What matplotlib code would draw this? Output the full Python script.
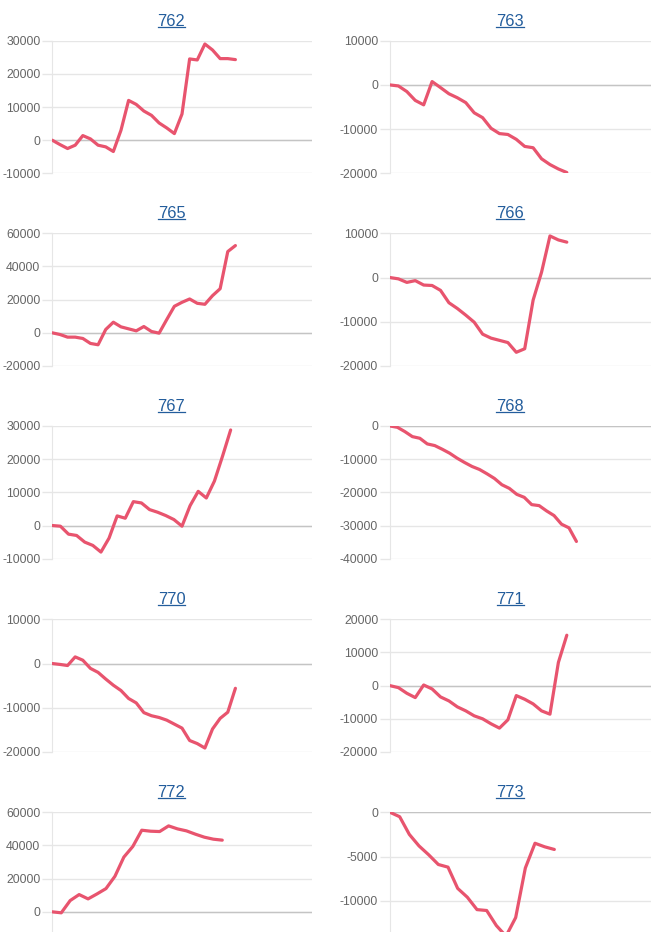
import matplotlib
matplotlib.use("Agg")
import matplotlib.pyplot as plt
from matplotlib.lines import Line2D
import numpy as np

plt.rcParams['font.family'] = ['Liberation Sans', 'DejaVu Sans']
plt.rcParams['axes.unicode_minus'] = False

titles = ["762", "763", "765", "766", "767", "768", "770", "771", "772", "773"]

s762 = [0, -1300, -2500, -1500, 1400, 400, -1500, -2000, -3400, 3000, 12000, 10800,
        8800, 7500, 5200, 3700, 2000, 7900, 24500, 24200, 29000, 27200, 24600, 24600, 24300]
s763 = [0, -230, -1500, -3500, -4500, 760, -600, -2000, -2900, -4000, -6300, -7400,
        -9800, -11000, -11200, -12300, -13900, -14200, -16700, -18000, -19000, -19800]
s765 = [0, -1000, -2600, -2600, -3400, -6400, -7200, 2000, 6400, 3600, 2400, 1200,
        3800, 800, -200, 8000, 16000, 18400, 20400, 17800, 17200, 22400, 26600, 49000, 52600]
s766 = [0, -300, -1100, -700, -1700, -1800, -2900, -5700, -7000, -8500, -10100, -12800,
        -13700, -14200, -14700, -16900, -16100, -5100, 1200, 9400, 8500, 8000]
s767 = [0, -200, -2600, -3000, -5000, -6000, -8000, -3800, 2900, 2200, 7200, 6800,
        4800, 4000, 3000, 1800, -200, 6000, 10300, 8300, 13400, 20900, 28800]
s768 = [0, -400, -1700, -3200, -3700, -5400, -5900, -7000, -8200, -9700, -11000, -12200,
        -13100, -14400, -15800, -17700, -18800, -20600, -21500, -23700, -24000, -25600,
        -27000, -29600, -30700, -34800]
s770 = [0, -200, -450, 1500, 750, -1100, -2000, -3500, -4900, -6100, -7900, -8900,
        -11100, -11800, -12200, -12800, -13700, -14600, -17400, -18100, -19100, -14800,
        -12400, -11000, -5600]
s771 = [0, -600, -2300, -3600, 200, -1000, -3400, -4600, -6400, -7600, -9100, -10000,
        -11500, -12800, -10300, -3000, -4100, -5500, -7600, -8600, 7000, 15200]
s772 = [0, -600, 6800, 10400, 7800, 10800, 14000, 21400, 33000, 39400, 49200, 48600,
        48400, 51800, 50000, 48800, 46800, 45000, 43800, 43200]
s773 = [0, -500, -2500, -3800, -4800, -5900, -6200, -8600, -9600, -11000, -11100,
        -12800, -14000, -11900, -6300, -3500, -3900, -4200]

series = [s762, s763, s765, s766, s767, s768, s770, s771, s772, s773]

# number of x labels on each chart (data stops before the end)
n_labels = [35, 32, 35, 32, 33, 36, 35, 32, 30, 28]

# y axis: min, max, step
y_scales = [(-10000, 30000, 10000), (-20000, 10000, 10000),
            (-20000, 60000, 20000), (-20000, 10000, 10000),
            (-10000, 30000, 10000), (-40000, 0, 10000),
            (-20000, 10000, 10000), (-20000, 20000, 10000),
            (-20000, 60000, 20000), (-15000, 0, 5000)]

W, H = 672, 932
fig = plt.figure(figsize=(W / 100, H / 100), dpi=100)

col_x = [(52.3, 311.7), (390.0, 651.0)]
row_top = [40.7, 233.3, 426.0, 619.3, 812.3]
plot_h = 132.7
title_x = [171.5, 510.3]

line_color = '#e8546e'
grid_color = '#e6e6e6'
title_color = '#235d9c'

title_texts = []
for i, vals in enumerate(series):
    r, c = divmod(i, 2)
    x0, x1 = col_x[c]
    top = row_top[r]
    ax = fig.add_axes([x0 / W, 1 - (top + plot_h) / H, (x1 - x0) / W, plot_h / H])
    ymin, ymax, step = y_scales[i]
    ticks = np.arange(ymin, ymax + step, step)
    ax.set_ylim(ymin, ymax)
    ax.set_xlim(0, n_labels[i] - 1)
    ax.set_yticks(ticks)
    labels = [str(int(t)) for t in ticks]
    # bottom row runs past the edge of the page, its lowest label is not seen
    if top + plot_h > H:
        labels[0] = ''
    ax.set_yticklabels(labels)
    ax.set_xticks([])
    ax.grid(axis='y', color=grid_color, lw=1)
    ax.axhline(0, color='#c4c4c4', lw=1, zorder=1)
    for s in ['top', 'right', 'bottom']:
        ax.spines[s].set_visible(False)
    ax.spines['left'].set_color(grid_color)
    ax.tick_params(axis='y', length=7, width=1, color=grid_color, pad=1.5,
                   labelsize=8.8, labelcolor='#666666')
    ax.set_axisbelow(True)
    ax.plot(np.arange(len(vals)), vals, color=line_color, lw=2.3,
            solid_joinstyle='round', solid_capstyle='round', zorder=3)

    t = fig.text(title_x[c] / W, 1 - (top - 19.5) / H, titles[i], ha='center',
                 va='center', fontsize=11.8, color=title_color)
    title_texts.append(t)

# underline the titles like links
fig.canvas.draw()
inv = fig.transFigure.inverted()
for t in title_texts:
    bb = t.get_window_extent()
    (ax0, ay0), (ax1, _) = inv.transform([[bb.x0, bb.y0 + 2], [bb.x1, bb.y0 + 2]])
    fig.add_artist(Line2D([ax0, ax1], [ay0, ay0], color=title_color, lw=0.9,
                          transform=fig.transFigure))

fig.savefig('out.png', dpi=100)
